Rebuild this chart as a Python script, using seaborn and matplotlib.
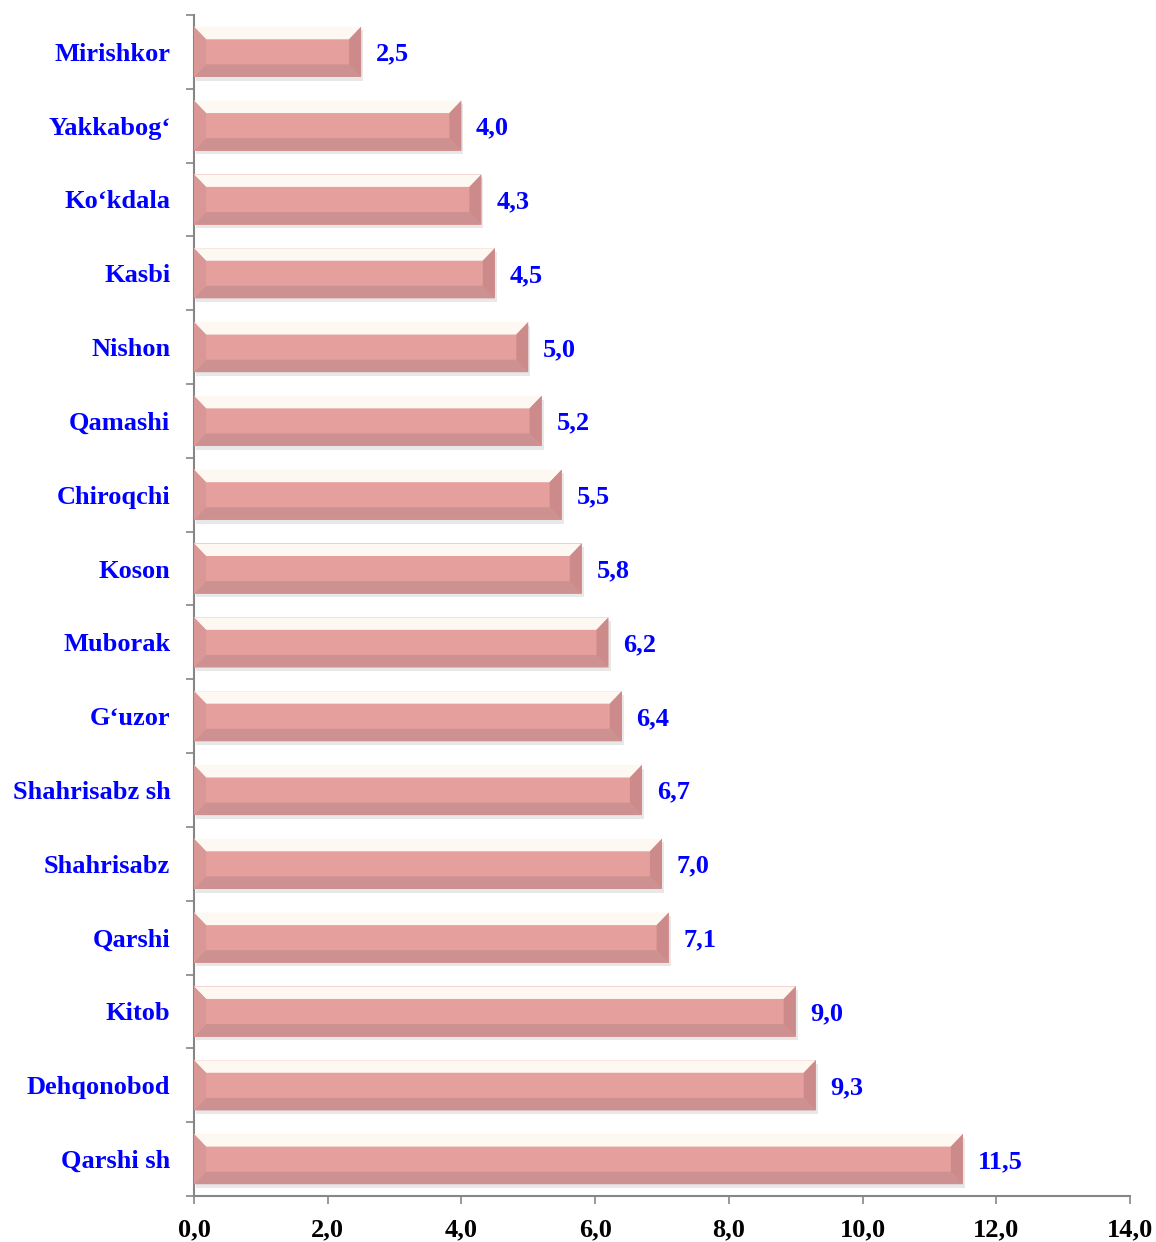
import numpy as np
import seaborn as sns
from matplotlib import pyplot as plt
from matplotlib.patches import Polygon
from matplotlib.ticker import FixedLocator

# data
districts = ["Mirishkor", "Yakkabog\u2018", "Ko\u2018kdala", "Kasbi", "Nishon", "Qamashi",
             "Chiroqchi", "Koson", "Muborak", "G\u2018uzor", "Shahrisabz sh", "Shahrisabz",
             "Qarshi", "Kitob", "Dehqonobod", "Qarshi sh"]
values = [2.5, 4.0, 4.3, 4.5, 5.0, 5.2, 5.5, 5.8, 6.2, 6.4, 6.7, 7.0, 7.1, 9.0, 9.3, 11.5]
x_ticks = [0, 2, 4, 6, 8, 10, 12, 14]

sns.set_style("white")
plt.rcParams['font.family'] = ['Liberation Serif', 'DejaVu Serif']

fig = plt.figure(figsize=(11.56, 12.42), dpi=100)
ax = fig.add_axes([0.1678, 0.037, 0.8097, 0.951])

face = "#e59f9d"
sns.barplot(x=values, y=districts, orient="h", width=0.68, color=face,
            saturation=1, ax=ax, zorder=3)

# bevel look on every bar, built from the bar patches
dx, dy = 0.18, 0.17
for p in list(ax.patches):
    x0, y0 = p.get_x(), p.get_y()
    w, h = p.get_width(), p.get_height()
    x1, y1 = x0 + w, y0 + h  # y0 is top (inverted axis)
    p.set_edgecolor("none")
    ix0, ix1 = x0 + dx, x1 - dx
    iy0, iy1 = y0 + dy, y1 - dy
    # soft shadow
    ax.add_patch(plt.Rectangle((x0 + 0.03, y0 + 0.05), w, h, color="#e8e8e8", zorder=2, lw=0))
    sides = [
        ([(x0, y0), (x1, y0), (ix1, iy0), (ix0, iy0)], "#fdf8f2"),   # top
        ([(x0, y1), (x1, y1), (ix1, iy1), (ix0, iy1)], "#cc9190"),   # bottom
        ([(x0, y0), (ix0, iy0), (ix0, iy1), (x0, y1)], "#d99795"),   # left
        ([(x1, y0), (ix1, iy0), (ix1, iy1), (x1, y1)], "#cc8b8a"),   # right
    ]
    for pts, c in sides:
        ax.add_patch(Polygon(pts, closed=True, facecolor=c, edgecolor="none", zorder=4))
    ax.text(x1 + 0.22, y0 + h / 2 + 0.03, f"{w:.1f}".replace(".", ","), color="#0000ff",
            fontsize=19, fontweight="bold", va="center", ha="left", zorder=5)

ax.set_xlim(0, 14)
ax.set_ylim(len(districts) - 0.5, -0.5)
ax.set_xticks(x_ticks)
ax.set_xticklabels([f"{t:.1f}".replace(".", ",") for t in x_ticks],
                   fontsize=19, fontweight="bold", color="black")
ax.set_yticklabels(districts, fontsize=19, fontweight="bold", color="#0000ff")

ax.yaxis.set_minor_locator(FixedLocator(np.arange(-0.5, len(districts), 1.0)))
ax.tick_params(axis="y", which="major", length=0, pad=17)
ax.tick_params(axis="y", which="minor", length=6, width=1.2, color="#868686", direction="out", left=True)
ax.tick_params(axis="x", which="major", length=6, width=1.2, color="#868686", direction="out", bottom=True, pad=10)

for s in ["top", "right"]:
    ax.spines[s].set_visible(False)
for s in ["left", "bottom"]:
    ax.spines[s].set_color("#868686")
    ax.spines[s].set_linewidth(1.5)

ax.set_xlabel("")
ax.set_ylabel("")
fig.savefig("out.png", dpi=100)
